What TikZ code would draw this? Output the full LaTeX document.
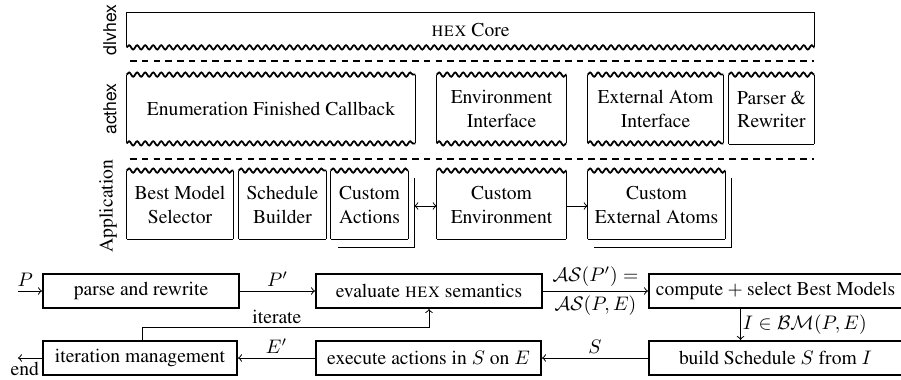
\documentclass[tikz,border=0pt]{standalone}
\usepackage[T1]{fontenc}
\usepackage{times}
\usepackage{amsmath}
\usepackage{amssymb}
\usetikzlibrary{decorations.pathmorphing}
\newcommand{\px}{0.5105pt}
\newcommand{\hexsc}{\textsc{hex}}
\tikzset{
  wave/.style={decorate,decoration={snake,amplitude=1.1pt,segment length=4.1pt}},
  box/.style={line width=0.9pt},
  lay/.style={inner sep=0pt,align=center,minimum height=68*\px},
  flow/.style={draw,line width=1.1pt,inner sep=0pt,minimum height=34*\px},
  sep/.style={line width=0.6pt,dash pattern=on 3.4pt off 2.6pt},
  conn/.style={line width=0.5pt}
}

\begin{document}
\begin{tikzpicture}[x=0.5105pt,y=-0.5105pt]
\useasboundingbox (0,0) rectangle (901,380);

\node[rotate=90,font=\sffamily\small] (ldlv) at (110,30) {dlvhex};
\node[rotate=90,font=\sffamily\small] (lact) at (110,109) {acthex};
\node[rotate=90] (lapp) at (108,206) {Application};

\node[lay,minimum width=687*\px,minimum height=34*\px] (core) at (470.5,30) {\hexsc{} Core};
\draw[box] (core.south west) |- (core.north east) -- (core.south east);
\draw[box,wave] (core.south west) -- (core.south east);

\draw[sep] (130,61) -- (814,61);

\node[lay,minimum width=288*\px] (enum) at (271,109) {Enumeration Finished Callback};
\node[lay,minimum width=129*\px] (envif) at (501.5,109) {Environment\\Interface};
\node[lay,minimum width=135*\px] (extif) at (655.5,109) {External Atom\\Interface};
\node[lay,minimum width=85*\px,minimum height=69*\px] (parser) at (771.5,109.5) {Parser \&\\Rewriter};

\draw[sep] (130,159) -- (814,159);

\node[lay,minimum width=106*\px] (bms) at (180,205) {Best Model\\Selector};
\node[lay,minimum width=87*\px] (sb) at (282.5,205) {Schedule\\Builder};
\node[lay,minimum width=77*\px] (ca) at (369.5,205) {Custom\\Actions};
\node[lay,minimum width=129*\px] (ce) at (501.5,205) {Custom\\Environment};
\node[lay,minimum width=137*\px] (cea) at (656.5,205) {Custom\\External Atoms};

\foreach \n in {enum,envif,extif,parser,bms,sb,ca,ce,cea} {
  \draw[box] (\n.north west) -- (\n.south west) (\n.north east) -- (\n.south east);
  \draw[box,wave] (\n.north west) -- (\n.north east);
}
\foreach \n in {enum,envif,extif}
  \draw[box,wave] (\n.south west) -- (\n.south east);
\foreach \n in {parser,bms,sb,ca,ce,cea}
  \draw[box] (\n.south west) -- (\n.south east);

\draw[box] ([shift={(6,7)}]ca.north east) |- ([shift={(7,8)}]ca.south west);
\draw[box] ([shift={(6,7)}]cea.north east) |- ([shift={(6,8)}]cea.south west);
\draw[conn,<->] ([shift={(6,1)}]ca.east) -- ([shift={(0,1)}]ce.west);
\draw[conn,->] ([shift={(0,1)}]ce.east) -- ([shift={(0,1)}]cea.west);

\node[flow,minimum width=196*\px] (parse) at (141,291) {parse and rewrite};
\node[flow,minimum width=226*\px] (eval) at (429,291) {evaluate \hexsc{} semantics};
\node[flow,minimum width=253*\px] (comp) at (775.5,291) {compute${}+{}$select Best Models\hspace{4pt}};
\node[flow,minimum width=194*\px] (iter) at (140,358) {iteration management};
\node[flow,minimum width=225*\px] (exec) at (428.5,358) {execute actions in $S$ on $E$};
\node[flow,minimum width=253*\px] (build) at (775.5,358) {build Schedule $S$ from $I$\hspace{4pt}};

\coordinate (pin) at (18,291);
\coordinate (pend) at (18,358);

\draw[conn,->] (pin) -- node[pos=0.3,above,inner sep=2pt]{$P$} (parse);
\draw[conn,->] (parse) -- node[above,inner sep=2pt]{$P'$} (eval);
\draw[conn,->] (eval) -- node[above,inner sep=2pt]{$\mathcal{AS}(P')=$} node[below,inner sep=2pt]{$\mathcal{AS}(P,E)$} (comp);
\draw[conn,->] ([shift={(-35,0)}]comp.south) -- node[right,inner sep=1pt]{$I\in\mathcal{BM}(P,E)$} ([shift={(-35,0)}]build.north);
\draw[conn,->] (build) -- node[above,inner sep=2pt]{$S$} (exec);
\draw[conn,->] (exec) -- node[above,inner sep=2pt]{$E'$} (iter);
\draw[conn,->] (iter) -- (pend) node[pos=0.72,below,inner sep=2pt]{end};
\draw[conn,->] ([shift={(2,0)}]iter.north) -- ++(0,-12) -| (eval.south) node[pos=0.235,above,inner sep=2pt]{iterate};

\end{tikzpicture}
\end{document}
